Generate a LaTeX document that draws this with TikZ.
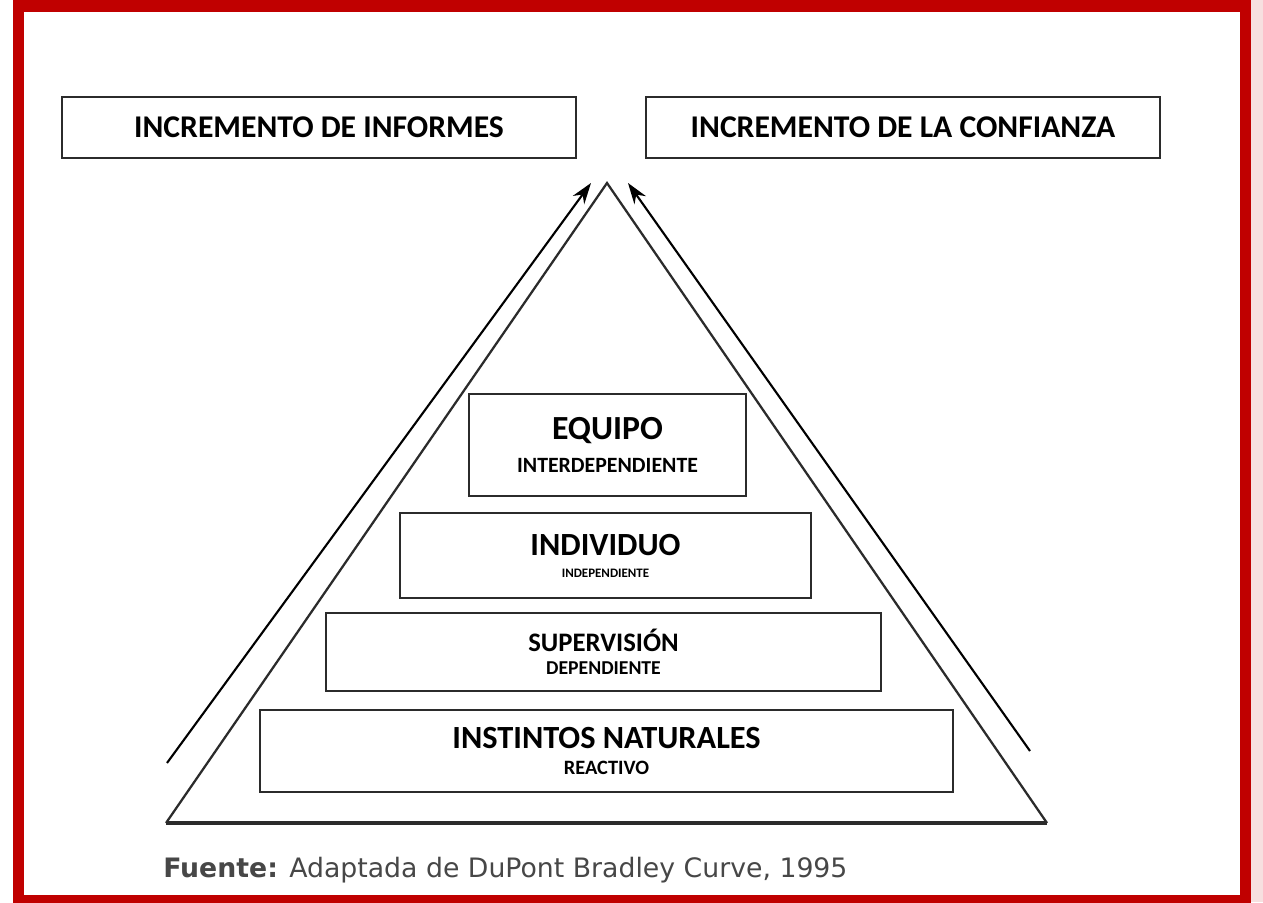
\documentclass[tikz,border=0pt]{standalone}
\usepackage{xcolor}
\usepackage{fontspec}
\setmainfont{Carlito}
\newfontfamily\fuentefont{DejaVu Sans}
\usepackage{tikz}
\definecolor{marco}{HTML}{C00000}
\definecolor{tinta}{HTML}{2B2B2B}
\tikzset{
  caja/.style={rectangle, draw=tinta, line width=1.4pt, align=center, font=\bfseries, inner sep=0pt},
  lado/.style={draw=tinta, line width=1.6pt},
  flecha/.style={draw=black, line width=1.5pt, -{Stealth[length=15pt,width=10pt]}}
}
\usetikzlibrary{arrows.meta}

\begin{document}
\begin{tikzpicture}[x=0.025cm, y=-0.025cm]
\useasboundingbox (0,0) rectangle (1263,902);
\fill[white] (0,0) rectangle (1263,902);
\fill[marco!12] (1251,0) rectangle (1263,902);
\draw[marco, line width=0.29cm] (18.5,6) rectangle (1245.5,901);

\node at (319,127.5) [caja, minimum width=12.85cm, minimum height=1.525cm] (informes) {\fontsize{22.5}{24}\selectfont INCREMENTO DE INFORMES};
\node at (903,127.5) [caja, minimum width=12.85cm, minimum height=1.525cm] (confianza) {\fontsize{22.5}{24}\selectfont INCREMENTO DE LA CONFIANZA};

\coordinate (apex) at (607,183);
\coordinate (baseizq) at (166,823);
\coordinate (baseder) at (1047,823);
\draw[lado, line join=miter] (baseizq) -- (apex) -- (baseder);
\draw[draw=tinta, line width=3pt] (baseizq) -- (baseder);

\coordinate (colaizq) at (167,763);
\coordinate (puntaizq) at (591,183);
\coordinate (colader) at (1030,751);
\coordinate (puntader) at (628,183);
\draw[flecha] (colaizq) -- (puntaizq);
\draw[flecha] (colader) -- (puntader);

\node at (607.5,445) [caja, minimum width=6.925cm, minimum height=2.55cm] (equipo) {\fontsize{24}{26}\selectfont EQUIPO\\[10pt]{\fontsize{15.5}{17}\selectfont INTERDEPENDIENTE}};
\node at (605.5,555.5) [caja, minimum width=10.275cm, minimum height=2.125cm] (individuo) {\fontsize{23}{25}\selectfont INDIVIDUO\\[3.6pt]{\fontsize{9.2}{10}\selectfont INDEPENDIENTE}};
\node at (603.5,652) [caja, minimum width=13.875cm, minimum height=1.95cm] (supervision) {\fontsize{19}{21}\selectfont SUPERVISIÓN\\[4.3pt]{\fontsize{14}{15}\selectfont DEPENDIENTE}};
\node at (606.5,751) [caja, minimum width=17.325cm, minimum height=2.05cm] (instintos) {\fontsize{23}{25}\selectfont INSTINTOS NATURALES\\[6.5pt]{\fontsize{14.5}{16}\selectfont REACTIVO}};

\node at (163,877) [anchor=base west, inner sep=0pt, text=black!72, font=\fuentefont\fontsize{19}{21}\selectfont] (fuente) {\textbf{Fuente:} Adaptada de DuPont Bradley Curve, 1995};
\end{tikzpicture}
\end{document}
